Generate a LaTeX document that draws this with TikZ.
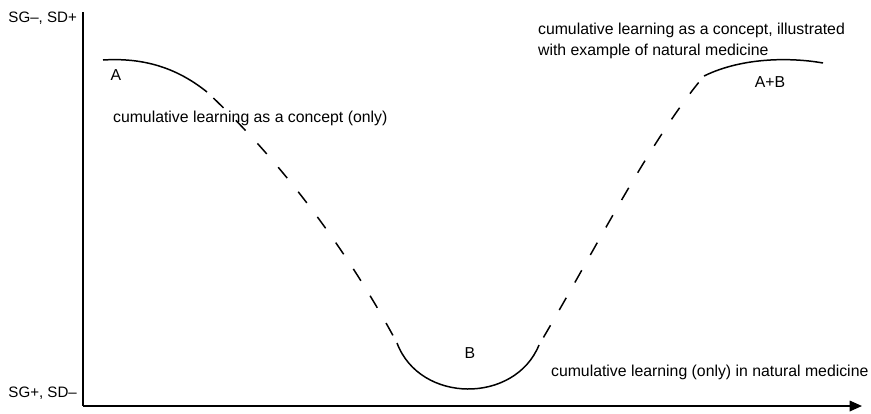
\documentclass[tikz,border=0pt]{standalone}
\usepackage{fontspec}
\setmainfont{Liberation Sans}
\usepackage{tikz}
\usetikzlibrary{arrows.meta,positioning}
\tikzset{
  axis/.style={line width=0.9pt, black},
  curvepart/.style={line width=0.85pt, black},
  gappart/.style={line width=0.85pt, black, dash pattern=on 8pt off 10pt, dash phase=13pt},
  lvl/.style={font=\fontsize{8.6}{10}\selectfont, anchor=east, inner sep=1pt},
  ptlab/.style={font=\fontsize{9}{10.8}\selectfont, inner sep=1pt},
  phase/.style={font=\fontsize{9}{12}\selectfont, anchor=west, align=left, inner sep=1pt},
}

\begin{document}
\begin{tikzpicture}[x=0.02cm, y=-0.02cm]
\useasboundingbox (0,0) rectangle (871,413);

\def\xax{83}
\def\ybase{406}

% ── axes ───────────────────────────────────────────────────────────────────
\coordinate (orig) at (\xax, \ybase);
\coordinate (ytop) at (\xax, 12);
\coordinate (xend) at (862, \ybase);
\draw[axis] (ytop) -- (orig);
\draw[axis, -{Triangle[length=7pt, width=6pt]}] (orig) -- (xend);
\node[lvl] (hi) at (79, 18) {SG–, SD+};
\node[lvl] (lo) at (79, 393) {SG+, SD–};

% ── the curve ──────────────────────────────────────────────────────────────
\coordinate (a0) at (103, 60);
\coordinate (a1) at (207, 92);
\coordinate (b0) at (397, 343);
\coordinate (b1) at (539, 345);
\coordinate (c0) at (704, 76);
\coordinate (c1) at (823, 63);
\draw[curvepart] (a0) .. controls (150,57) and (182,72) .. (a1);
\draw[gappart] (a1) .. controls (285,165) and (350,255) .. (b0);
\draw[curvepart] (b0) .. controls (420,404) and (515,404) .. (b1);
\draw[gappart] (b1) .. controls (595,250) and (650,140) .. (c0);
\draw[curvepart] (c0) .. controls (745,56) and (795,58) .. (c1);

% ── labels ─────────────────────────────────────────────────────────────────
\node[ptlab] (la) at (116, 75) {A};
\node[ptlab] (lb) at (470, 353) {B};
\node[ptlab] (lab) at (770, 82) {A+B};
\node[phase] (p1) at (111, 118) {cumulative learning as a concept (only)};
\node[phase] (p2) at (536, 41)
  {cumulative learning as a concept, illustrated\\with example of natural medicine};
\node[phase] (p3) at (549, 372) {cumulative learning (only) in natural medicine};

\end{tikzpicture}
\end{document}
